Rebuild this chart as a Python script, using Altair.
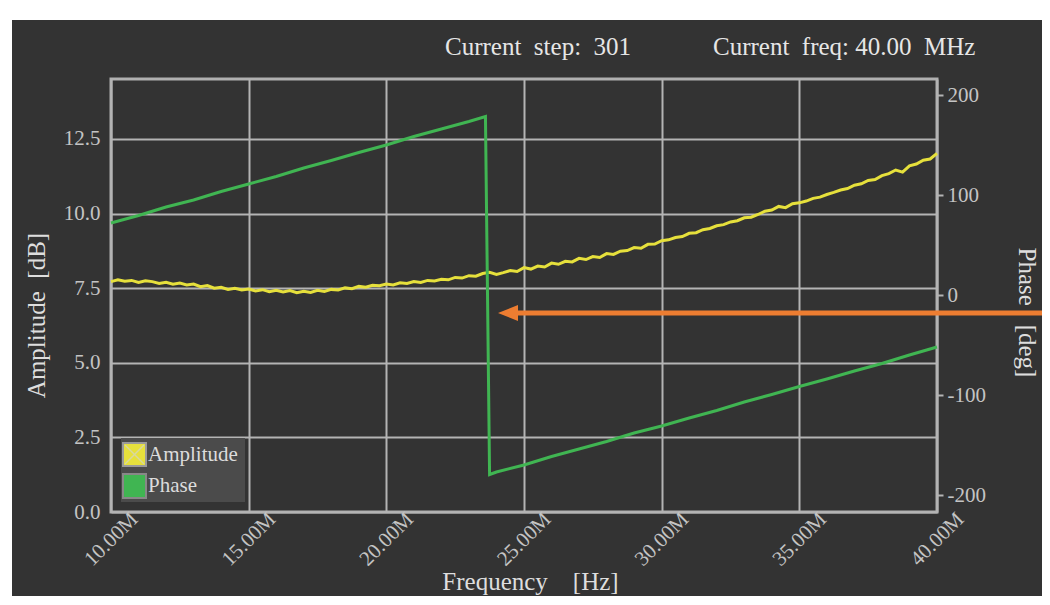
import altair as alt
import pandas as pd

# ---------------- data ----------------
freq_amp = [10.00, 10.25, 10.50, 10.75, 11.00, 11.25, 11.50, 11.75, 12.00, 12.25, 12.50, 12.75,
            13.00, 13.25, 13.50, 13.75, 14.00, 14.25, 14.50, 14.75, 15.00, 15.25, 15.50, 15.75,
            16.00, 16.25, 16.50, 16.75, 17.00, 17.25, 17.50, 17.75, 18.00, 18.25, 18.50, 18.75,
            19.00, 19.25, 19.50, 19.75, 20.00, 20.25, 20.50, 20.75, 21.00, 21.25, 21.50, 21.75,
            22.00, 22.25, 22.50, 22.75, 23.00, 23.25, 23.50, 23.75, 24.00, 24.25, 24.50, 24.75,
            25.00, 25.25, 25.50, 25.75, 26.00, 26.25, 26.50, 26.75, 27.00, 27.25, 27.50, 27.75,
            28.00, 28.25, 28.50, 28.75, 29.00, 29.25, 29.50, 29.75, 30.00, 30.25, 30.50, 30.75,
            31.00, 31.25, 31.50, 31.75, 32.00, 32.25, 32.50, 32.75, 33.00, 33.25, 33.50, 33.75,
            34.00, 34.25, 34.50, 34.75, 35.00, 35.25, 35.50, 35.75, 36.00, 36.25, 36.50, 36.75,
            37.00, 37.25, 37.50, 37.75, 38.00, 38.25, 38.50, 38.75, 39.00, 39.25, 39.50, 39.75,
            40.00]
amp_db = [7.72, 7.78, 7.73, 7.76, 7.69, 7.75, 7.72, 7.66, 7.70, 7.63, 7.67, 7.61,
          7.64, 7.55, 7.59, 7.50, 7.53, 7.46, 7.50, 7.44, 7.47, 7.41, 7.45, 7.38,
          7.43, 7.37, 7.42, 7.35, 7.40, 7.36, 7.43, 7.39, 7.46, 7.44, 7.51, 7.48,
          7.56, 7.53, 7.60, 7.58, 7.64, 7.61, 7.68, 7.66, 7.72, 7.69, 7.76, 7.74,
          7.80, 7.78, 7.86, 7.84, 7.92, 7.90, 7.99, 8.03, 7.96, 8.02, 8.09, 8.06,
          8.19, 8.14, 8.24, 8.21, 8.34, 8.30, 8.40, 8.38, 8.50, 8.46, 8.56, 8.53,
          8.66, 8.63, 8.74, 8.76, 8.86, 8.84, 8.97, 8.98, 9.09, 9.12, 9.20, 9.23,
          9.34, 9.36, 9.46, 9.50, 9.59, 9.63, 9.72, 9.76, 9.86, 9.88, 9.97, 10.08,
          10.12, 10.24, 10.20, 10.33, 10.36, 10.42, 10.51, 10.55, 10.64, 10.71, 10.79, 10.84,
          10.95, 11.00, 11.11, 11.14, 11.27, 11.34, 11.46, 11.39, 11.60, 11.66, 11.79, 11.83,
          12.02]

freq_phase = [10, 11, 12, 13, 14, 15, 16, 17, 18, 19, 20, 21, 22, 23, 23.6,
              23.75, 24, 25, 26, 27, 28, 29, 30, 31, 32, 33, 34, 35, 36, 37, 38, 39, 40]
phase_deg = [72, 79.5, 88, 95, 103.5, 111, 118.5, 127, 134.5, 142.5, 150, 158.5, 166, 173.5, 178.5,
             -179.5, -177, -170, -161.5, -154, -146.5, -138, -131, -123, -115.5, -107, -99.5,
             -91.5, -84, -76, -68.5, -60, -52]

x_ticks = [10, 15, 20, 25, 30, 35, 40]
amp_ticks = [0, 2.5, 5, 7.5, 10, 12.5]
phase_ticks = [-200, -100, 0, 100, 200]

series_names = ["Amplitude", "Phase"]
series_colors = ["#e6e03c", "#40b552"]
header_texts = ["Current\u00a0 step:\u00a0 301", "Current\u00a0 freq:\u00a040.00\u00a0 MHz"]

amp_df = pd.DataFrame({"freq": freq_amp, "value": amp_db})
phase_df = pd.DataFrame({"freq": freq_phase, "value": phase_deg})
one = pd.DataFrame({"k": [0]})

# ---------------- style ----------------
W, H = 826, 433
FONT = "Liberation Serif"
BG = "#333333"
GRID = "#b4b4b4"
TICKLBL = "#c4c4c4"
TITLE = "#dedede"
ORANGE = "#ED7D31"

x_enc = alt.X(
    "freq:Q",
    scale=alt.Scale(domain=[10, 40], nice=False, zero=False),
    axis=alt.Axis(
        values=x_ticks, labelExpr="format(datum.value, '.2f') + 'M'",
        labelAngle=315, labelAlign="center", labelBaseline="middle",
        labelPadding=27, labelFlush=False, labelOverlap=False, labelBound=False,
        ticks=False, domain=False, grid=True, gridColor=GRID, gridWidth=2,
        labelFont=FONT, labelFontSize=21, labelColor=TICKLBL,
        title="Frequency\u00a0\u00a0\u00a0 [Hz]", titleFont=FONT, titleFontSize=25,
        titleFontWeight="normal", titleColor=TITLE,
        titleX=419, titleY=69, titleAlign="center", titleBaseline="middle",
    ),
)

amp_line = alt.Chart(amp_df).mark_line(color=series_colors[0], strokeWidth=3).encode(
    x=x_enc,
    y=alt.Y(
        "value:Q",
        scale=alt.Scale(domain=[0, 14.51], nice=False, zero=False),
        axis=alt.Axis(
            orient="left", values=amp_ticks, format=".1f", ticks=False, domain=False,
            grid=True, gridColor=GRID, gridWidth=2, labelPadding=11,
            labelFont=FONT, labelFontSize=21, labelColor=TICKLBL,
            title="Amplitude\u00a0 [dB]", titleFont=FONT, titleFontSize=25,
            titleFontWeight="normal", titleColor=TITLE, titleAngle=270,
            titleX=-75, titleY=236, titleAlign="center", titleBaseline="middle",
        ),
    ),
)

phase_line = alt.Chart(phase_df).mark_line(color=series_colors[1], strokeWidth=3).encode(
    x=x_enc,
    y=alt.Y(
        "value:Q",
        scale=alt.Scale(domain=[-217, 216], nice=False, zero=False),
        axis=alt.Axis(
            orient="right", values=phase_ticks, ticks=True, tickSize=6, tickWidth=2,
            labelExpr="datum.value < 0 ? '-' + abs(datum.value) : '' + datum.value",
            tickColor=GRID, domain=False, grid=False, labelPadding=4,
            labelFont=FONT, labelFontSize=21, labelColor=TICKLBL,
            title="Phase\u00a0\u00a0 [deg]", titleFont=FONT, titleFontSize=25,
            titleFontWeight="normal", titleColor=TITLE, titleAngle=90,
            titleX=89, titleY=233, titleAlign="center", titleBaseline="middle",
        ),
    ),
)

# white margin strips (top/left) of the screenshot
strip_top = alt.Chart(one).mark_rect(color="white").encode(
    x=alt.value(-120), x2=alt.value(960), y=alt.value(-90), y2=alt.value(-59))
strip_left = alt.Chart(one).mark_rect(color="white").encode(
    x=alt.value(-120), x2=alt.value(-99), y=alt.value(-90), y2=alt.value(540))

# legend
leg_bg = alt.Chart(one).mark_rect(color="#4b4b4b").encode(
    x=alt.value(10), x2=alt.value(134), y=alt.value(359), y2=alt.value(423))
sw_amp = alt.Chart(one).mark_rect(fill=series_colors[0], stroke="#9a9a9a", strokeWidth=2).encode(
    x=alt.value(12), x2=alt.value(35), y=alt.value(364), y2=alt.value(387))
sw_amp_x1 = alt.Chart(one).mark_rule(color="#d8d8a0", strokeWidth=1.5).encode(
    x=alt.value(14), x2=alt.value(33), y=alt.value(366), y2=alt.value(385))
sw_amp_x2 = alt.Chart(one).mark_rule(color="#d8d8a0", strokeWidth=1.5).encode(
    x=alt.value(33), x2=alt.value(14), y=alt.value(366), y2=alt.value(385))
sw_ph = alt.Chart(one).mark_rect(fill=series_colors[1], stroke="#888888", strokeWidth=2).encode(
    x=alt.value(12), x2=alt.value(35), y=alt.value(395), y2=alt.value(419))
lab_amp = alt.Chart(one).mark_text(text=series_names[0], font=FONT, fontSize=21, color="#dcdcdc",
                                   align="left", baseline="alphabetic").encode(
    x=alt.value(37), y=alt.value(382))
lab_ph = alt.Chart(one).mark_text(text=series_names[1], font=FONT, fontSize=21, color="#dcdcdc",
                                  align="left", baseline="alphabetic").encode(
    x=alt.value(37), y=alt.value(413))

# header texts
head1 = alt.Chart(one).mark_text(text=header_texts[0], font=FONT, fontSize=25, color="#e6e6e6",
                                 align="left", baseline="middle").encode(
    x=alt.value(334), y=alt.value(-32))
head2 = alt.Chart(one).mark_text(text=header_texts[1], font=FONT, fontSize=25, color="#e6e6e6",
                                 align="left", baseline="middle").encode(
    x=alt.value(602), y=alt.value(-32))

# orange arrow annotation
arrow_line = alt.Chart(one).mark_rule(color=ORANGE, strokeWidth=5).encode(
    x=alt.value(402), x2=alt.value(960), y=alt.value(234))
arrow_head = alt.Chart(one).mark_point(
    shape="M-1,0L1,-0.8L1,0.8Z", filled=True, color=ORANGE, opacity=1, size=400, strokeWidth=0
).encode(x=alt.value(397), y=alt.value(234))

chart = alt.layer(
    strip_top, strip_left,
    amp_line, phase_line,
    leg_bg, sw_amp, sw_amp_x1, sw_amp_x2, sw_ph, lab_amp, lab_ph,
    head1, head2, arrow_line, arrow_head,
).resolve_scale(y="independent").properties(
    width=W, height=H,
    autosize=alt.AutoSizeParams(type="none"),
    padding={"left": 103, "top": 71, "right": 105, "bottom": 84},
    background=BG,
).configure_view(stroke="#b0b0b0", strokeWidth=3)

chart.save("out.html", embed_options={"renderer": "svg", "actions": False})
